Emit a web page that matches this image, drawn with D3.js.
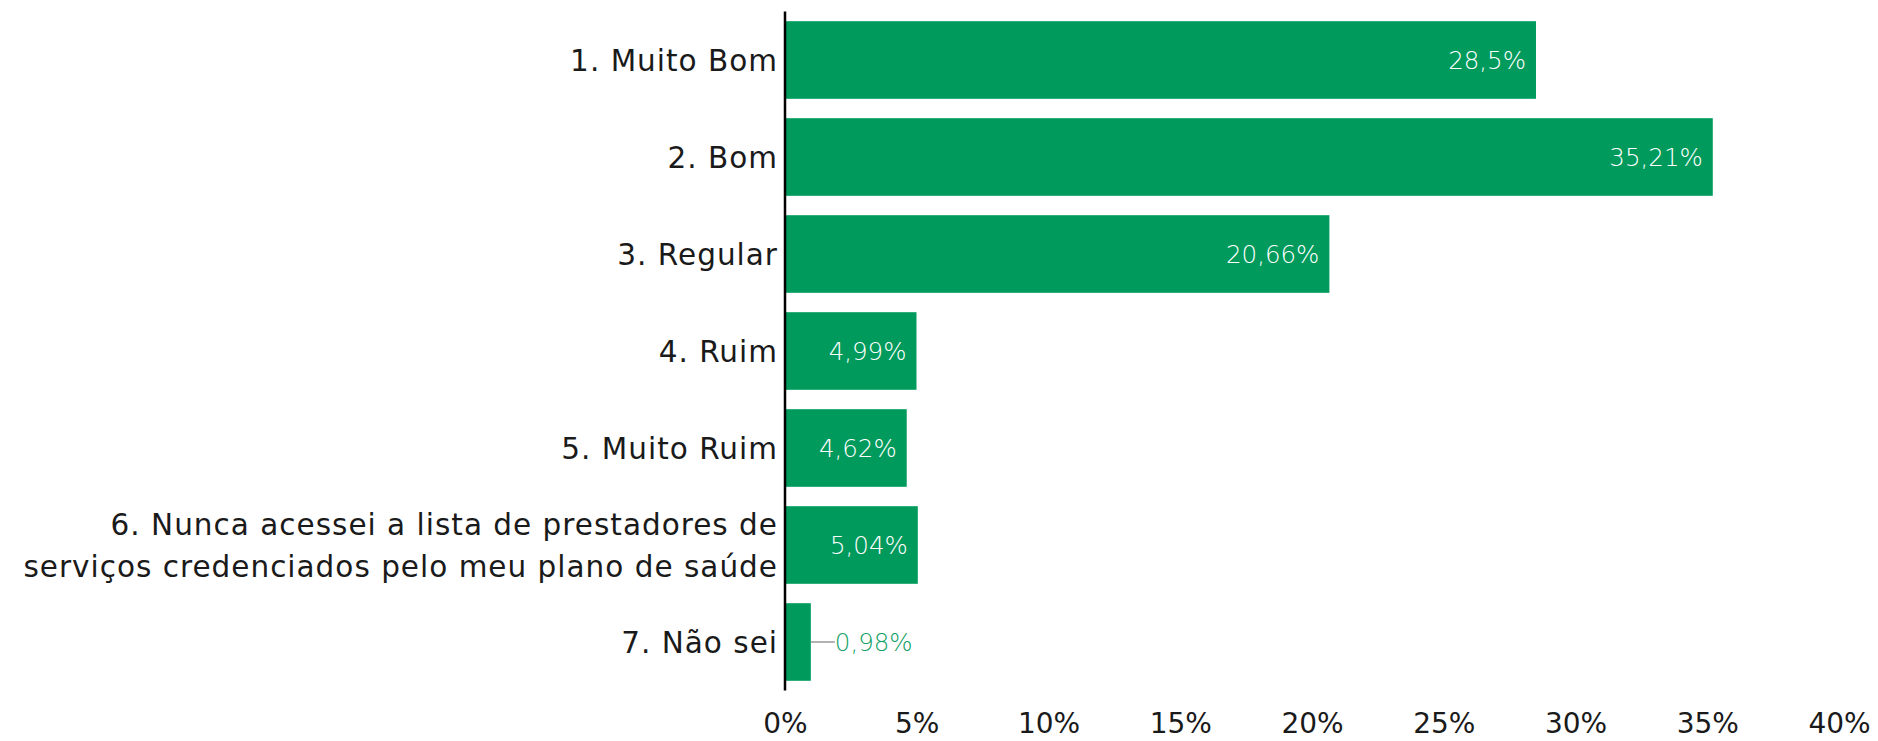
<!DOCTYPE html>
<html>
<head>
<meta charset="utf-8">
<script src="https://cdn.jsdelivr.net/npm/d3@7"></script>
<style>
  html, body { margin: 0; padding: 0; background: #fff; }
  svg { display: block; }
  text { font-family: "DejaVu Sans", sans-serif; }
</style>
</head>
<body>
<svg id="chart" width="1878" height="741"></svg>
<script>
const categories = [
  ["1. Muito Bom"],
  ["2. Bom"],
  ["3. Regular"],
  ["4. Ruim"],
  ["5. Muito Ruim"],
  ["6. Nunca acessei a lista de prestadores de", "serviços credenciados pelo meu plano de saúde"],
  ["7. Não sei"]
];
const values = [28.5, 35.21, 20.66, 4.99, 4.62, 5.04, 0.98];
const valueLabels = ["28,5%", "35,21%", "20,66%", "4,99%", "4,62%", "5,04%", "0,98%"];
const xTicks = [0, 5, 10, 15, 20, 25, 30, 35, 40];
const xTickLabels = ["0%", "5%", "10%", "15%", "20%", "25%", "30%", "35%", "40%"];

const svg = d3.select("#chart");
const x = d3.scaleLinear().domain([0, 40]).range([785, 1839]);
const y = d3.scaleBand().domain(d3.range(categories.length)).range([11.5, 690.5])
  .paddingInner(0.2).paddingOuter(0.1);

const green = "#009a5c";

// bars
svg.append("g").selectAll("rect").data(values).join("rect")
  .attr("x", x(0))
  .attr("y", (d, i) => y(i))
  .attr("width", d => x(d) - x(0))
  .attr("height", y.bandwidth())
  .attr("fill", green);

// value labels
const insideMin = 3;
values.forEach((v, i) => {
  const cy = y(i) + y.bandwidth() / 2;
  if (v >= insideMin) {
    svg.append("text")
      .attr("x", x(v) - 10)
      .attr("y", cy)
      .attr("dy", "0.36em")
      .attr("text-anchor", "end")
      .attr("fill", "#ffffff")
      .attr("font-size", 24.5)
      .attr("font-weight", 200)
      .text(valueLabels[i]);
  } else {
    svg.append("line")
      .attr("x1", x(v)).attr("x2", x(v) + 24)
      .attr("y1", cy).attr("y2", cy)
      .attr("stroke", "#999").attr("stroke-width", 1.5);
    svg.append("text")
      .attr("x", x(v) + 24)
      .attr("y", cy)
      .attr("dy", "0.36em")
      .attr("text-anchor", "start")
      .attr("fill", "#10a064")
      .attr("font-size", 24.5)
      .attr("font-weight", 200)
      .text(valueLabels[i]);
  }
});

// y axis (category labels)
const yAxis = d3.axisLeft(y).tickSize(0).tickFormat("");
const gy = svg.append("g").attr("transform", `translate(${x(0)},0)`).call(yAxis);
gy.select(".domain").attr("stroke", "#000").attr("stroke-width", 2.5)
  .attr("d", `M0,${y.range()[0]}V${y.range()[1]}`);

categories.forEach((lines, i) => {
  const cy = y(i) + y.bandwidth() / 2;
  const lh = 42;
  const t = svg.append("text")
    .attr("text-anchor", "end")
    .attr("fill", "#1a1a1a")
    .attr("font-size", 29.5)
    .attr("letter-spacing", 1);
  lines.forEach((ln, j) => {
    t.append("tspan")
      .attr("x", x(0) - 7)
      .attr("y", cy + (j - (lines.length - 1) / 2) * lh)
      .attr("dy", "0.36em")
      .text(ln);
  });
});

// x axis
const xAxis = d3.axisBottom(x).tickValues(xTicks).tickSize(0)
  .tickFormat((d, i) => xTickLabels[i]);
const gx = svg.append("g").attr("transform", "translate(0,0)").call(xAxis);
gx.select(".domain").remove();
gx.selectAll("text")
  .attr("font-family", "DejaVu Sans, sans-serif")
  .attr("font-size", 28)
  .attr("fill", "#1a1a1a")
  .attr("dy", null)
  .attr("y", 733);
</script>
</body>
</html>
